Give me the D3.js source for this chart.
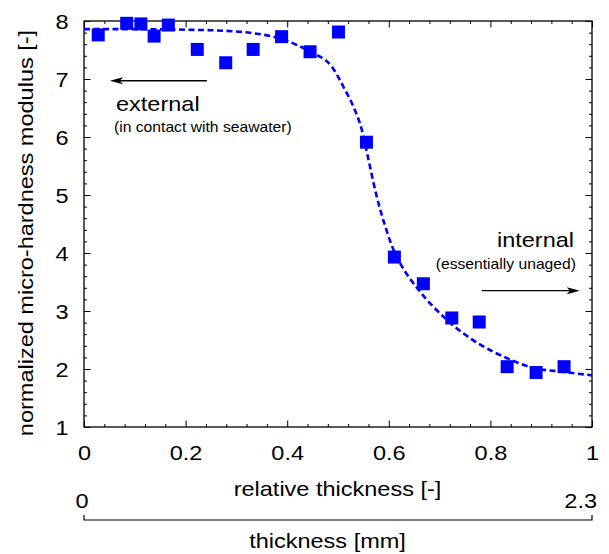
<!DOCTYPE html>
<html>
<head>
<meta charset="utf-8">
<script src="https://cdn.jsdelivr.net/npm/d3@7"></script>
<style>
  html, body { margin: 0; padding: 0; background: #fff; }
  svg { display: block; font-family: "Liberation Sans", Arial, Helvetica, sans-serif; }
</style>
</head>
<body>
<svg id="chart" width="609" height="554"></svg>
<script>
// ---- data ----
const relThickness = [0.028,0.084,0.112,0.138,0.166,0.223,0.279,0.333,0.389,0.445,0.501,0.556,0.611,0.668,0.724,0.778,0.833,0.890,0.945];
const modulus      = [7.76, 7.96, 7.95, 7.74, 7.93, 7.51, 7.28, 7.51, 7.73, 7.47, 7.81, 5.91, 3.93, 3.47, 2.88, 2.81, 2.04, 1.94, 2.04];
const fitX = [0, 0.10, 0.20, 0.28, 0.333, 0.389, 0.445, 0.488, 0.514, 0.533, 0.547, 0.560, 0.576, 0.593, 0.609, 0.622, 0.661, 0.714, 0.780, 0.832, 0.884, 0.944, 1.0];
const fitY = [7.86, 7.86, 7.85, 7.83, 7.79, 7.69, 7.47, 7.21, 6.81, 6.47, 6.12, 5.61, 4.98, 4.46, 4.06, 3.83, 3.34, 2.85, 2.42, 2.19, 2.02, 1.95, 1.89];
const xMajorTicks = [0, 0.2, 0.4, 0.6, 0.8, 1];
const xTickLabels = ["0", "0.2", "0.4", "0.6", "0.8", "1"];
const yMajorTicks = [1, 2, 3, 4, 5, 6, 7, 8];
const yTickLabels = ["1", "2", "3", "4", "5", "6", "7", "8"];
const mmDomain = [0, 2.3];
const mmTickLabels = ["0", "2.3"];

// ---- layout ----
const L = 84, R = 592, T = 21, B = 427;
const SX = 1.12; // horizontal glyph stretch seen in the reference
const BIG = 21, SMALL = 14;
const blue = "#0000ff";

const svg = d3.select("#chart");
const x = d3.scaleLinear().domain([0, 1]).range([L, R]);
const y = d3.scaleLinear().domain([1, 8]).range([B, T]);
const xmm = d3.scaleLinear().domain(mmDomain).range([L, R]);

const xMinor = d3.range(0, 26).map(i => i * 0.04).filter(v => !xMajorTicks.some(m => Math.abs(m - v) < 1e-6));
const yMinor = d3.range(0, 36).map(i => 1 + i * 0.2).filter(v => !yMajorTicks.some(m => Math.abs(m - v) < 1e-6));

function tickAxis(axisFn, scale, g, vals, size) {
  const a = axisFn(scale).tickValues(vals).tickSize(-size).tickFormat("");
  g.call(a);
  g.select(".domain").remove();
  g.selectAll(".tick line").attr("stroke", "#000").attr("stroke-width", 1);
}
const axesDefs = [
  [d3.axisBottom, x, `translate(0,${B})`, xMinor, xMajorTicks],
  [d3.axisTop, x, `translate(0,${T})`, xMinor, xMajorTicks],
  [d3.axisLeft, y, `translate(${L},0)`, yMinor, yMajorTicks],
  [d3.axisRight, y, `translate(${R},0)`, yMinor, yMajorTicks]
];
axesDefs.forEach(([fn, sc, tr, minor, major]) => {
  tickAxis(fn, sc, svg.append("g").attr("transform", tr), minor, 3);
  tickAxis(fn, sc, svg.append("g").attr("transform", tr), major, 6.5);
});

// frame
svg.append("rect").attr("x", L).attr("y", T).attr("width", R - L).attr("height", B - T)
  .attr("fill", "none").attr("stroke", "#000").attr("stroke-width", 1.3);

// tick labels
const xLab = svg.append("g").attr("transform", `translate(0,${B})`)
  .call(d3.axisBottom(x).tickValues(xMajorTicks).tickSize(0).tickFormat((d, i) => xTickLabels[i]));
xLab.select(".domain").remove();
xLab.selectAll("text").attr("y", null).attr("dy", null).attr("x", 0)
  .attr("transform", `translate(0,33) scale(${SX},1)`)
  .attr("font-size", BIG).attr("font-family", null).attr("fill", "#000");

const yLab = svg.append("g").attr("transform", `translate(${L},0)`)
  .call(d3.axisLeft(y).tickValues(yMajorTicks).tickSize(0).tickFormat((d, i) => yTickLabels[i]));
yLab.select(".domain").remove();
yLab.selectAll("text").attr("x", 0).attr("dy", "0.36em")
  .attr("transform", `translate(-15.5,0) scale(${SX},1)`)
  .attr("font-size", BIG).attr("font-family", null).attr("fill", "#000");

function txt(str, px, py, size, anchor, rot) {
  return svg.append("text")
    .attr("transform", `translate(${px},${py})${rot ? ` rotate(${rot})` : ""} scale(${SX},1)`)
    .attr("text-anchor", anchor).attr("font-size", size).attr("fill", "#000").text(str);
}

// axis titles
txt("normalized micro-hardness modulus [-]", 33, 233, BIG, "middle", -90);
txt("relative thickness [-]", 337.5, 496, BIG, "middle");

// secondary thickness axis (bracket)
const bY = 520;
svg.append("path")
  .attr("d", `M${xmm(mmDomain[0])},${bY - 5}V${bY}H${xmm(mmDomain[1])}V${bY - 5}`)
  .attr("fill", "none").attr("stroke", "#000").attr("stroke-width", 1.2);
txt(mmTickLabels[0], xmm(mmDomain[0]) - 2, 508, BIG, "middle");
txt(mmTickLabels[1], xmm(mmDomain[1]) + 5, 508, BIG, "end");
txt("thickness [mm]", 327.5, 548, BIG, "middle");

// fitted dashed curve
const line = d3.line().x(d => x(d[0])).y(d => y(d[1])).curve(d3.curveMonotoneX);
svg.append("path").datum(fitX.map((v, i) => [v, fitY[i]]))
  .attr("d", line).attr("fill", "none").attr("stroke", blue)
  .attr("stroke-width", 2.6).attr("stroke-dasharray", "6,3.5");

// data squares
const S = 13;
svg.append("g").selectAll("rect").data(relThickness.map((v, i) => [v, modulus[i]]))
  .join("rect")
  .attr("x", d => x(d[0]) - S / 2).attr("y", d => y(d[1]) - S / 2)
  .attr("width", S).attr("height", S).attr("fill", blue);

// annotations
function arrow(x0, x1, yv) {
  const px0 = x(x0), px1 = x(x1), py = y(yv);
  const dir = Math.sign(px1 - px0);
  svg.append("line").attr("x1", px0).attr("x2", px1 - dir * 10).attr("y1", py).attr("y2", py)
    .attr("stroke", "#000").attr("stroke-width", 1.3);
  svg.append("path")
    .attr("d", `M${px1},${py}L${px1 - dir * 13},${py - 3.5}L${px1 - dir * 10},${py}L${px1 - dir * 13},${py + 3.5}Z`)
    .attr("fill", "#000");
}
arrow(0.242, 0.051, 6.97);
arrow(0.783, 0.976, 3.35);

txt("external", 116, 110.5, BIG, "start");
txt("(in contact with seawater)", 114, 132, SMALL, "start");
txt("internal", 574, 246.5, BIG, "end");
txt("(essentially unaged)", 576, 269, SMALL, "end");
</script>
</body>
</html>
